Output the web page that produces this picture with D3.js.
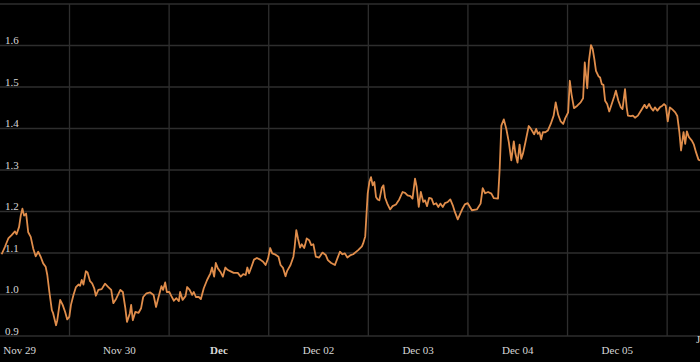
<!DOCTYPE html>
<html>
<head>
<meta charset="utf-8">
<script src="https://cdn.jsdelivr.net/npm/d3@7"></script>
<style>
  html, body { margin: 0; padding: 0; background: #000; }
  svg { display: block; }
</style>
</head>
<body>
<div id="chart"></div>
<script>
/* Price line, Nov 29 – Dec 06, dark theme */

// time window shown (UTC)
const START = '2024-11-29T07:15:00Z';
const END = '2024-12-06T07:55:00Z';

// [hours since START, value]
const seriesA = [
  [0.4,1.097],[1.2,1.115],[2.0,1.135],[2.8,1.143],[3.6,1.152],[4.0,1.145],[4.6,1.163],[5.0,1.19],[5.4,1.207],[5.8,1.19],
  [6.3,1.195],[6.8,1.15],[7.4,1.139],[8.0,1.111],[8.6,1.092],[9.2,1.103],[9.8,1.091],[10.4,1.075],[11.0,1.067],[11.4,1.047],
  [11.9,1.006],[12.5,0.962],[12.8,0.955],[13.5,0.926],[13.8,0.938],[14.5,0.987],[15.1,0.975],[15.7,0.958],[16.2,0.94],[16.7,0.946],
  [17.1,0.975],[17.7,0.999],[18.3,1.018],[18.9,1.024],[19.3,1.021],[19.7,1.035],[20.1,1.024],[20.7,1.056],[21.1,1.053],[21.7,1.032],
  [22.2,1.027],[22.7,1.015],[23.1,0.997],[23.7,1.011],[24.5,1.013],[25.3,1.026],[26.1,1.018],[26.8,1.011],[27.3,0.979],[28.0,0.99]
];
const seriesB = [
  [29.0,1.011],[29.6,1.006],[30.2,0.967],[30.6,0.934],[31.3,0.955],[31.6,0.975],[32.0,0.938],[32.6,0.958],[33.4,0.956],[34.0,0.967],
  [34.5,0.994],[35.3,1.003],[36.2,1.005],[37.0,0.999],[37.6,0.970],[38.2,0.994],[38.9,1.020],[39.3,1.011],[39.8,1.029],[40.2,1.006],
  [40.8,1.006],[41.3,0.996],[41.9,0.985],[42.5,0.991],[43.1,0.984],[43.4,1.006],[44.0,0.987],[44.7,0.996],[45.1,1.018],[45.7,1.011],
  [46.3,0.999],[46.7,1.006],[47.2,0.994],[47.9,0.994],[48.4,0.989],[49.1,1.015],[49.9,1.035],[50.7,1.051],[51.1,1.065],[51.6,1.043],
  [52.0,1.076],[52.5,1.063],[53.1,1.055],[53.7,1.043],[54.3,1.065],[54.9,1.059],[55.7,1.055],[56.3,1.052]
];
const seriesC = [
  [57.3,1.052],[58.0,1.043],[58.6,1.049],[59.2,1.047],[59.6,1.065],[60.0,1.051],[60.6,1.067],[61.2,1.084],[61.9,1.088],[62.7,1.084],
  [63.4,1.079],[64.0,1.071],[64.6,1.087],[65.1,1.112],[65.6,1.099],[66.4,1.096],[67.1,1.091],[67.6,1.071],[68.2,1.064],[68.8,1.044],
  [69.2,1.057],[70.0,1.071],[70.7,1.091],[71.0,1.115],[71.4,1.155],[71.8,1.135],[72.3,1.113],[72.7,1.121],[73.3,1.112],[73.5,1.119],
  [73.9,1.135],[74.5,1.131],[75.0,1.119],[75.5,1.121],[76.1,1.091],[76.9,1.089],[77.7,1.101],[78.5,1.095],[79.0,1.083],[79.8,1.076],
  [80.7,1.071],[81.3,1.087],[81.9,1.103],[82.5,1.097],[83.1,1.099],[83.7,1.089],[84.5,1.095]
];
const seriesD = [
  [85.1,1.097],[86.3,1.107],[87.2,1.116],[87.5,1.123],[88.0,1.14],[88.6,1.243],[89.0,1.271],[89.4,1.283],[89.8,1.263],[90.2,1.271],
  [90.6,1.235],[91.0,1.229],[91.4,1.227],[92.0,1.257],[92.4,1.263],[92.8,1.233],[93.4,1.217],[94.0,1.205],[94.6,1.213],[95.4,1.217],
  [96.2,1.229],[97.0,1.247],[97.6,1.245],[98.2,1.239],[98.9,1.237],[99.4,1.231],[100.0,1.279],[100.4,1.259],[100.9,1.211],[101.4,1.247],
  [102.0,1.223],[102.4,1.227],[102.9,1.213],[103.4,1.233],[104.0,1.231],[104.5,1.217],[105.1,1.220],[105.6,1.211],[106.1,1.219],[106.7,1.211],
  [107.2,1.220],[107.9,1.223],[108.5,1.229],[109.1,1.215],[109.6,1.199],[110.3,1.181],[110.9,1.195],[111.5,1.208],[112.0,1.217],[112.7,1.220]
];
const seriesE = [
  [113.7,1.203],[114.9,1.205],[115.8,1.219],[116.3,1.256],[116.9,1.244],[117.6,1.247],[118.4,1.243],[119.0,1.232],[120.0,1.231],[120.4,1.303],
  [120.8,1.407],[121.4,1.422],[122.0,1.399],[122.6,1.367],[123.2,1.323],[123.8,1.369],[124.2,1.339],[124.7,1.318],[125.2,1.361],[125.6,1.327],
  [126.0,1.339],[126.6,1.367],[127.4,1.406],[128.0,1.398],[128.7,1.386],[129.2,1.399],[129.6,1.387],[130.0,1.391],[130.4,1.374],[130.8,1.391],
  [131.4,1.391],[132.0,1.395],[132.7,1.411],[133.4,1.431],[133.9,1.463],[134.5,1.433],[135.1,1.417],[135.7,1.411],[136.2,1.425],[136.9,1.439],
  [137.3,1.515],[137.7,1.483],[138.3,1.449],[139.1,1.455],[139.9,1.463],[140.5,1.473],[140.9,1.559]
];
const seriesF = [
  [141.5,1.497],[141.9,1.563],[142.4,1.601],[142.8,1.592],[143.2,1.568],[143.6,1.539],[144.2,1.526],[144.6,1.523],[145.0,1.507],[145.4,1.505],
  [145.8,1.467],[146.3,1.459],[146.8,1.441],[147.4,1.459],[148.0,1.477],[148.4,1.491],[149.0,1.467],[149.6,1.451],[150.0,1.447],[150.6,1.495],
  [151.0,1.451],[151.3,1.431],[152.0,1.430],[152.5,1.431],[153.0,1.426],[153.7,1.431],[154.2,1.439],[154.8,1.449],[155.3,1.457],[155.8,1.449],
  [156.4,1.459],[156.9,1.449],[157.4,1.443],[157.8,1.451],[158.4,1.443],[159.0,1.451],[159.6,1.455],[160.0,1.459],[160.4,1.455],[160.9,1.417],
  [161.4,1.451],[162.0,1.446],[162.7,1.439],[163.2,1.430],[163.7,1.391],[164.1,1.347],[164.7,1.391],[165.1,1.363],[165.5,1.393],[166.0,1.379],
  [166.7,1.371],[167.2,1.361],[167.7,1.343],[168.3,1.325],[168.7,1.323]
];

// axis ticks
const yTicks = [0.9, 1.0, 1.1, 1.2, 1.3, 1.4, 1.5, 1.6];
const yTop = 1.7;
const xLabels = ['Nov 29', 'Nov 30', 'Dec', 'Dec 02', 'Dec 03', 'Dec 04', 'Dec 05'];
const xLabelDates = ['2024-11-29T12:00Z', '2024-11-30T12:00Z', '2024-12-01T12:00Z', '2024-12-02T12:00Z',
                     '2024-12-03T12:00Z', '2024-12-04T12:00Z', '2024-12-05T12:00Z'];
const xGridDates = ['2024-11-30T00:00Z', '2024-12-01T00:00Z', '2024-12-02T00:00Z', '2024-12-03T00:00Z',
                    '2024-12-04T00:00Z', '2024-12-05T00:00Z', '2024-12-06T00:00Z'];

const width = 700, height = 362;
const t0 = new Date(START);

const data = [...seriesA, ...seriesB, ...seriesC, ...seriesD, ...seriesE, ...seriesF]
  .map(([h, v]) => ({ t: new Date(+t0 + h * 3600e3), v }));

const svg = d3.select('#chart').append('svg')
  .attr('width', width).attr('height', height)
  .style('background', '#000');

const x = d3.scaleUtc()
  .domain([t0, new Date(END)])
  .range([0, width]);

const y = d3.scaleLinear()
  .domain([0.9, yTop])
  .range([336, 4]);

const FONT = '"Liberation Serif", "DejaVu Serif", serif';
const GRID = '#2e2e2e';

// ---- grid ----
svg.append('g')
  .selectAll('line').data([...yTicks, yTop]).join('line')
  .attr('x1', 0).attr('x2', width)
  .attr('y1', d => y(d)).attr('y2', d => y(d))
  .attr('stroke', GRID).attr('stroke-width', 1.3);

svg.append('g')
  .selectAll('line').data(xGridDates.map(d => new Date(d))).join('line')
  .attr('x1', d => x(d)).attr('x2', d => x(d))
  .attr('y1', y(yTop)).attr('y2', y(0.9))
  .attr('stroke', GRID).attr('stroke-width', 1.3);

// ---- y labels ----
svg.append('g')
  .selectAll('text').data(yTicks).join('text')
  .attr('x', 5).attr('y', d => y(d) - 1.5)
  .attr('font-family', FONT).attr('font-size', '11px')
  .attr('fill', '#d8d8d8')
  .text(d => d3.format('.1f')(d));

// ---- x labels ----
svg.append('g')
  .selectAll('text').data(xLabels).join('text')
  .attr('x', (d, i) => x(new Date(xLabelDates[i])))
  .attr('y', 354)
  .attr('text-anchor', 'middle')
  .attr('font-family', FONT).attr('font-size', '11px')
  .attr('font-weight', d => d === 'Dec' ? 'bold' : 'normal')
  .attr('fill', '#d8d8d8')
  .text(d => d);

// clipped label at the right edge
svg.append('text')
  .attr('x', 696).attr('y', 343)
  .attr('font-family', FONT).attr('font-size', '11px')
  .attr('fill', '#d8d8d8')
  .text('J');

// ---- line ----
const line = d3.line()
  .x(d => x(d.t))
  .y(d => y(d.v));

svg.append('path')
  .datum(data)
  .attr('d', line)
  .attr('fill', 'none')
  .attr('stroke', '#e08d4b')
  .attr('stroke-width', 1.8)
  .attr('stroke-linejoin', 'round');
</script>
</body>
</html>
